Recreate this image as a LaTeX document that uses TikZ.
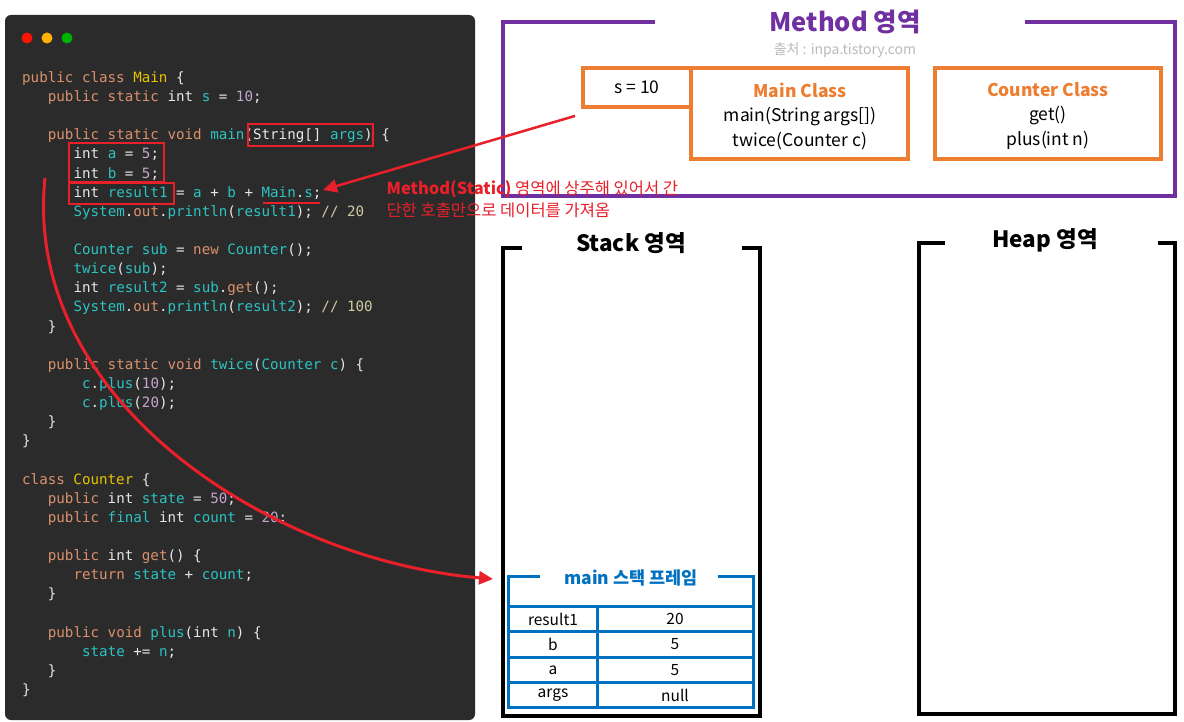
\documentclass[tikz,border=0pt]{standalone}
\usepackage{fontspec}
\setmainfont{Noto Sans CJK KR}
\newfontfamily\codefont{DejaVu Sans Mono}
\usepackage{tikz}
\usetikzlibrary{positioning, arrows.meta, calc}
\usepackage{xcolor}

\definecolor{codebg}{HTML}{2B2B2B}
\definecolor{jwhite}{HTML}{E6E6E6}
\definecolor{jkwc}{HTML}{DB916C}
\definecolor{jtyc}{HTML}{E6C300}
\definecolor{jidc}{HTML}{2CC3C3}
\definecolor{jnumc}{HTML}{C6A6CF}
\definecolor{jcmtc}{HTML}{CFC9A3}
\definecolor{markred}{HTML}{E8202A}
\definecolor{methodc}{HTML}{7030A0}
\definecolor{classc}{HTML}{ED7D31}
\definecolor{framec}{HTML}{0070C0}

\newcommand\jkw[1]{\textcolor{jkwc}{#1}}
\newcommand\jty[1]{\textcolor{jtyc}{#1}}
\newcommand\jid[1]{\textcolor{jidc}{#1}}
\newcommand\jnum[1]{\textcolor{jnumc}{#1}}
\newcommand\jcmt[1]{\textcolor{jcmtc}{#1}}
% one code line: line number, indent (chars), text
\newcommand\codeln[3]{\node[codetxt] (l#1) at (22+#2*8.56, 82.5+#1*19.125) {#3};}

\tikzset{
  codetxt/.style={anchor=base west, inner sep=0pt, text=jwhite,
    font=\codefont\fontsize{14.2}{17}\selectfont},
  redbox/.style={draw=markred, line width=2.5pt},
  classbox/.style={draw=classc, line width=3.8pt},
  cell/.style={font=\fontsize{15.5}{18}\selectfont, inner sep=0pt},
}

\begin{document}
\begin{tikzpicture}[x=1pt, y=-1pt, font=\fontsize{17.5}{20}\selectfont]
  \fill[white] (0,0) rectangle (1184,722);
  \useasboundingbox (0,0) rectangle (1184,722);

  % code window
  \fill[codebg, rounded corners=6pt] (5,15) rectangle (475,720);
  \foreach \c [count=\k] in {red!85!orange, orange!60!yellow, green!70!black} {
    \fill[\c] (7+\k*20,38) circle (5.5);
  }
  \codeln{0}{0}{\jkw{public class} \jty{Main} \{}
  \codeln{1}{3}{\jkw{public static} int \jid{s} = \jnum{10};}
  \codeln{3}{3}{\jkw{public static void} \jid{main}(String[] \jid{args}) \{}
  \codeln{4}{6}{int \jid{a} = \jnum{5};}
  \codeln{5}{6}{int \jid{b} = \jnum{5};}
  \codeln{6}{6}{int \jid{result1} = \jid{a} + \jid{b} + \jid{Main}.\jid{s};}
  \codeln{7}{6}{\jid{System}.\jkw{out}.\jid{println}(\jid{result1}); \jcmt{// 20}}
  \codeln{9}{6}{\jid{Counter} \jid{sub} = \jkw{new} \jid{Counter}();}
  \codeln{10}{6}{\jid{twice}(\jid{sub});}
  \codeln{11}{6}{int \jid{result2} = \jid{sub}.\jkw{get}();}
  \codeln{12}{6}{\jid{System}.\jkw{out}.\jid{println}(\jid{result2}); \jcmt{// 100}}
  \codeln{13}{3}{\}}
  \codeln{15}{3}{\jkw{public static void} \jid{twice}(\jid{Counter} \jid{c}) \{}
  \codeln{16}{7}{\jid{c}.\jid{plus}(\jnum{10});}
  \codeln{17}{7}{\jid{c}.\jid{plus}(\jnum{20});}
  \codeln{18}{3}{\}}
  \codeln{19}{0}{\}}
  \codeln{21}{0}{\jkw{class} \jty{Counter} \{}
  \codeln{22}{3}{\jkw{public} int \jid{state} = \jnum{50};}
  \codeln{23}{3}{\jkw{public} \jid{final} int \jid{count} = \jnum{20};}
  \codeln{25}{3}{\jkw{public} int \jkw{get}() \{}
  \codeln{26}{6}{\jkw{return} \jid{state} + \jid{count};}
  \codeln{27}{3}{\}}
  \codeln{29}{3}{\jkw{public void} \jid{plus}(int \jid{n}) \{}
  \codeln{30}{7}{\jid{state} += \jid{n};}
  \codeln{31}{3}{\}}
  \codeln{32}{0}{\}}

  % marks in the code
  \draw[redbox] (248,124) rectangle (373,146);
  \draw[redbox] (69,143) rectangle (164,182);
  \draw[redbox] (69,183) rectangle (174,204);
  \draw[markred, line width=2.5pt] (263,203) -- (320,203);

  % method area
  \draw[methodc, line width=3.8pt] (655,22) -- (503,22) -- (503,196) -- (1175,196) -- (1175,22) -- (1025,22);
  \node[text=methodc, font=\bfseries\fontsize{25.5}{28}\selectfont] (mtitle) at (845,22) {Method 영역};
  \node[text=black!27, font=\fontsize{14}{16}\selectfont, below=2pt of mtitle] (src) {출처 : inpa.tistory.com};
  \node[classbox, minimum width=108, minimum height=39] (s10) at (637,87.5) {s = 10};
  \draw[classbox] (691,68) rectangle (908,159);
  \node[align=center, font=\fontsize{17.5}{24.5}\selectfont] (mainc) at (800,116) {\textcolor{classc}{\bfseries Main Class}\\ main(String args[])\\ twice(Counter c)};
  \draw[classbox] (935,68) rectangle (1161,159);
  \node[align=center, font=\fontsize{17.5}{24.5}\selectfont] (cntc) at (1048,116) {\textcolor{classc}{\bfseries Counter Class}\\ get()\\ plus(int n)};

  % note
  \node[text=markred, anchor=north west, align=left, font=\fontsize{16.5}{22}\selectfont] (note) at (383,177)
    {\textbf{Method(Static)} 영역에 상주해 있어서 간\\ 단한 호출만으로 데이터를 가져옴};

  % stack and heap
  \draw[line width=4pt] (522,248) -- (503,248) -- (503,716) -- (760,716) -- (760,248) -- (742,248);
  \node[font=\bfseries\fontsize{22.5}{26}\selectfont] (stitle) at (631,243) {Stack 영역};
  \draw[line width=4pt] (945,243) -- (919,243) -- (919,714) -- (1175,714) -- (1175,243) -- (1158,243);
  \node[font=\bfseries\fontsize{22.5}{26}\selectfont] (htitle) at (1045,240) {Heap 영역};

  % main stack frame
  \draw[framec, line width=3pt] (540,576) -- (508,576) -- (508,707) -- (753,707) -- (753,576) -- (718,576);
  \node[text=framec, font=\bfseries\fontsize{17.5}{20}\selectfont] (ftitle) at (631,578) {main 스택 프레임};
  \foreach \n/\v [count=\k] in {result1/20, b/5, a/5, args/null} {
    \draw[framec, line width=3pt] (508,580.5+\k*25.5) -- (753,580.5+\k*25.5);
    \node[cell] (n\k) at (553,593.5+\k*25.5) {\n};
    \node[cell] (v\k) at (675,593.5+\k*25.5) {\v};
  }
  \draw[framec, line width=3pt] (597,606) -- (597,707);

  % arrows
  \coordinate (mains) at (323,190);
  \coordinate (abtop) at (45,178);
  \coordinate (ftip) at (493,579);
  \draw[markred, line width=2.5pt, -{Triangle[length=14pt,width=13pt]}] ($(s10.south west)+(-6,7)$) -- (mains);
  \draw[markred, line width=3pt, -{Triangle[length=14pt,width=13pt]}] (abtop) .. controls (22,400) and (270,560) .. (ftip);
\end{tikzpicture}
\end{document}
